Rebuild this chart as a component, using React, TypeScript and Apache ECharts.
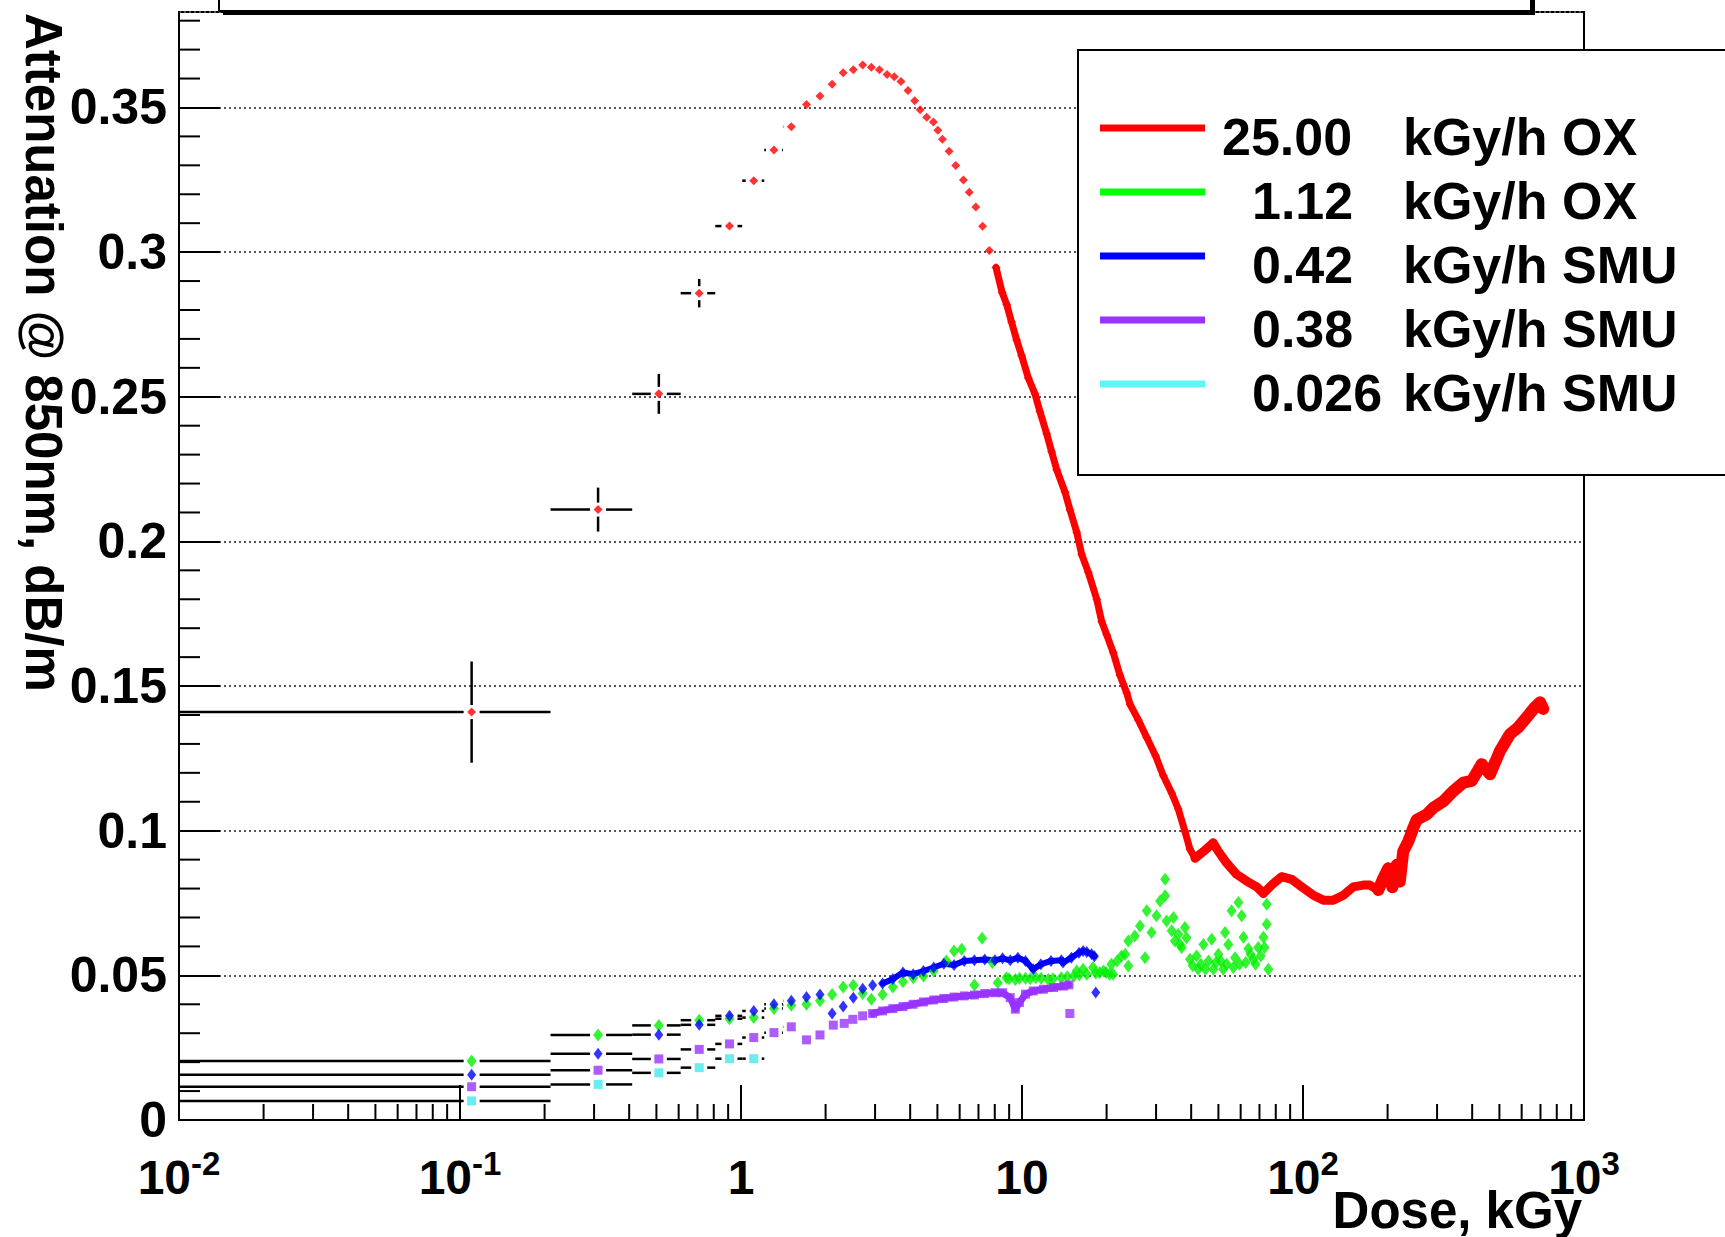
import React, { useEffect, useRef } from 'react';
import * as echarts from 'echarts';

const FONT = '"Liberation Sans", Arial, Helvetica, sans-serif';

// ---- axis labels ----
const xTickLabels = [
  { base: '10', exp: '-2' },
  { base: '10', exp: '-1' },
  { base: '1', exp: '' },
  { base: '10', exp: '' },
  { base: '10', exp: '2' },
  { base: '10', exp: '3' },
];
const yTickLabels = ['0', '0.05', '0.1', '0.15', '0.2', '0.25', '0.3', '0.35'];
const xTitle = 'Dose, kGy';
const yTitle = 'Attenuation @ 850nm, dB/m';

// ---- legend ----
const legendRates = ['25.00', '1.12', '0.42', '0.38', '0.026'];
const legendUnits = ['kGy/h OX', 'kGy/h OX', 'kGy/h SMU', 'kGy/h SMU', 'kGy/h SMU'];
const seriesNames = legendRates.map((r, i) => `${r} ${legendUnits[i]}`);
const lineColors = ['#ff0000', '#00ff00', '#0000ff', '#9933ff', '#5ff5f5'];
const markerColors = ['#ff0000', '#00f000', '#0000ff', '#9933ff', '#44e8ec'];

// half width of the first dose bins (kGy)
const X_ERR = 0.1;

// ---- data: [dose kGy, attenuation dB/m] ----
const red25 = [
  [0.11, 0.141], [0.31, 0.211], [0.51, 0.251], [0.71, 0.2858], [0.91, 0.309], [1.11, 0.3247],
  [1.31, 0.3353], [1.51, 0.3433], [1.71, 0.351], [1.91, 0.354], [2.11, 0.358], [2.31, 0.362],
  [2.51, 0.363], [2.71, 0.3647], [2.91, 0.3639], [3.11, 0.363], [3.31, 0.3614], [3.51, 0.3606],
  [3.71, 0.359], [3.93, 0.3559], [4.15, 0.3523], [4.34, 0.3492], [4.58, 0.3466], [4.84, 0.345],
  [5.02, 0.3421], [5.21, 0.339], [5.5, 0.3349], [5.81, 0.3299], [6.19, 0.3249], [6.49, 0.3207],
  [6.85, 0.3156], [7.24, 0.3089], [7.65, 0.3006], [8.08, 0.2947], [8.5, 0.286], [8.82, 0.2819],
  [9.18, 0.2758], [9.57, 0.2696], [9.97, 0.2642], [10.53, 0.2565], [11.12, 0.251], [11.58, 0.2449],
  [12.24, 0.2372], [12.75, 0.231], [13.29, 0.2248], [14.22, 0.2171], [14.82, 0.2109], [15.66, 0.2032],
  [16.31, 0.1955], [17.22, 0.1893], [18.45, 0.18], [19.21, 0.1723], [20.02, 0.1677], [21.13, 0.1615],
  [22.3, 0.1538], [23.59, 0.1476], [24.24, 0.1437], [25.94, 0.1383], [27.79, 0.1322], [29.9, 0.1258],
  [31.83, 0.119], [34.1, 0.113], [35.98, 0.1075], [38.0, 0.0998], [39.6, 0.0936], [41.28, 0.0905],
  [44.2, 0.0928], [47.9, 0.0958], [49.95, 0.0929], [53.5, 0.0888], [58.1, 0.0849], [63.0, 0.0826],
  [68.4, 0.0806], [72.3, 0.0783], [77.3, 0.0812], [83.9, 0.0841], [91.2, 0.0832], [98.96, 0.0806],
  [108.8, 0.0777], [118.1, 0.076], [128.2, 0.076], [139.2, 0.0777], [151, 0.0806], [163.9, 0.0812],
  [173, 0.0812], [185.3, 0.0795], [193, 0.0835], [201.2, 0.087], [208, 0.0805], [215.4, 0.0882],
  [221, 0.0824], [227.3, 0.0928], [237, 0.0963], [247, 0.101], [253.9, 0.1038], [275.5, 0.1056],
  [291, 0.1079], [315.9, 0.1102], [342.8, 0.1137], [372, 0.1166], [398.4, 0.1172], [432.4, 0.123],
  [463, 0.1195], [502.4, 0.1276], [545.3, 0.1334], [583.5, 0.1357], [625, 0.1392], [669.2, 0.1427],
  [697.3, 0.1444], [716.2, 0.1421],
];
const red25YErr = [0.0175, 0.0076, 0.0069, 0.0049, 0.002, 0.001];

const green112 = [
  [0.11, 0.0204], [0.31, 0.0294], [0.51, 0.0327], [0.71, 0.0345], [0.91, 0.035], [1.11, 0.0354],
  [1.31, 0.0385], [1.51, 0.0397], [1.71, 0.04], [1.91, 0.0412], [2.11, 0.0434], [2.31, 0.046],
  [2.51, 0.0466], [2.71, 0.0437], [2.91, 0.0417], [3.19, 0.0434], [3.47, 0.046], [3.77, 0.0478],
  [4.1, 0.0492], [4.46, 0.0498], [4.85, 0.0515], [5.38, 0.055], [5.73, 0.0584], [6.1, 0.059],
  [6.77, 0.0467], [7.21, 0.0628], [7.84, 0.0544], [8.2, 0.0474], [8.8, 0.0492], [9.0, 0.0488],
  [9.47, 0.0486], [9.8, 0.049], [10.29, 0.049], [10.7, 0.0488], [11.2, 0.0492], [11.7, 0.049],
  [12.4, 0.0486], [12.9, 0.0488], [13.8, 0.0492], [14.5, 0.0495], [15.3, 0.0498], [15.65, 0.0515],
  [16.0, 0.0502], [16.5, 0.0521], [17.0, 0.0504], [17.9, 0.0527], [18.3, 0.0508], [18.9, 0.051],
  [19.5, 0.0515], [19.9, 0.051], [20.5, 0.0504], [20.8, 0.0538], [21.1, 0.0504], [21.8, 0.055],
  [22.6, 0.0567], [23.3, 0.0573], [23.9, 0.0532], [23.9, 0.0619], [25.2, 0.0636], [26.3, 0.0671],
  [27.4, 0.0561], [27.8, 0.0723], [28.9, 0.0648], [30.1, 0.0706], [31.0, 0.0757], [32.3, 0.0832],
  [32.3, 0.0775], [32.7, 0.0688], [34.1, 0.0654], [34.6, 0.07], [35.0, 0.0619], [36.0, 0.0642],
  [36.5, 0.0607], [37.0, 0.0596], [38.0, 0.0665], [38.5, 0.063], [39.6, 0.0556], [40.5, 0.0533],
  [41.8, 0.0567], [42.4, 0.0521], [43.3, 0.0538], [44.2, 0.0607], [45.0, 0.0521], [46.1, 0.055],
  [47.3, 0.0625], [48.0, 0.0521], [49.0, 0.0544], [50.0, 0.0573], [51.0, 0.055], [52.0, 0.0521],
  [52.8, 0.0648], [53.5, 0.0538], [54.2, 0.0607], [55.7, 0.0723], [56.5, 0.0527], [57.3, 0.0561],
  [58.9, 0.0752], [59.5, 0.0538], [60.5, 0.0706], [61.4, 0.0632], [62.5, 0.0544], [63.9, 0.0592],
  [65.0, 0.0573], [66.6, 0.0556], [67.8, 0.0538], [69.3, 0.0596], [70.7, 0.0567], [72.3, 0.0632],
  [73.0, 0.0596], [74.3, 0.0677], [74.3, 0.0746], [75.3, 0.0521],
];

const blue042 = [
  [0.11, 0.0156], [0.31, 0.0229], [0.51, 0.0295], [0.71, 0.0329], [0.91, 0.036], [1.11, 0.0377],
  [1.31, 0.04], [1.51, 0.0412], [1.71, 0.0425], [1.91, 0.0434], [2.31, 0.0392], [2.51, 0.0423],
  [2.71, 0.0454], [2.94, 0.0466], [3.19, 0.0472], [3.47, 0.0487], [3.77, 0.051], [4.1, 0.0504],
  [4.46, 0.0515], [4.85, 0.0527], [5.27, 0.054], [5.73, 0.0536], [6.23, 0.055], [6.77, 0.0552],
  [7.37, 0.0555], [8.01, 0.0552], [8.53, 0.0559], [9.08, 0.0552], [9.67, 0.0561], [10.29, 0.055],
  [10.96, 0.0521], [11.67, 0.0538], [12.68, 0.055], [13.8, 0.0552], [14.0, 0.0544], [14.99, 0.0561],
  [15.96, 0.0578], [16.5, 0.0584], [17.0, 0.0581], [17.7, 0.0573], [18.1, 0.0566],
];
const blue042Stray = [[2.11, 0.0368], [18.3, 0.0441]];

const purple038 = [
  [0.11, 0.0115], [0.31, 0.0172], [0.51, 0.0211], [0.71, 0.0244], [0.91, 0.0263], [1.11, 0.0285],
  [1.31, 0.0302], [1.51, 0.0322], [1.71, 0.0277], [1.91, 0.0294], [2.13, 0.0328], [2.33, 0.0334],
  [2.5, 0.0348], [2.71, 0.036], [2.94, 0.0368], [3.19, 0.0377], [3.47, 0.0385], [3.77, 0.0392],
  [4.1, 0.04], [4.46, 0.0408], [4.85, 0.0415], [5.27, 0.042], [5.73, 0.0425], [6.23, 0.0429],
  [6.77, 0.0432], [7.37, 0.0437], [8.01, 0.044], [8.53, 0.044], [9.08, 0.0423], [9.47, 0.0383],
  [9.79, 0.0406], [10.29, 0.0435], [10.96, 0.0446], [11.92, 0.0452], [12.95, 0.0458], [14.08, 0.0463],
  [14.69, 0.0467],
];
const purple038Stray = [[14.8, 0.0368]];

const cyan0026 = [
  [0.11, 0.0066], [0.31, 0.0123], [0.51, 0.0163], [0.71, 0.0181], [0.91, 0.0212], [1.11, 0.0212],
];

// ---- helpers ----
function errorItems(points: number[][], yErr: number[]) {
  const out: number[][] = [];
  points.forEach((p, i) => {
    if (p[0] < 2) out.push([p[0], p[1], X_ERR, i < yErr.length ? yErr[i] : 0]);
  });
  return out;
}

function minorTickItems() {
  const items: number[][] = [];
  for (let k = -2; k <= 2; k++) {
    for (let m = 2; m <= 9; m++) items.push([m * Math.pow(10, k), 0, 0]);
  }
  for (let j = 1; j <= 38; j++) {
    if (j % 5 !== 0) items.push([0.01, j / 100, 1]);
  }
  return items;
}

export default function App() {
  const ref = useRef<HTMLDivElement>(null);

  useEffect(() => {
    if (!ref.current) return;
    const chart = echarts.init(ref.current, undefined, { renderer: 'svg' });

    const errData = [
      ...errorItems(red25, red25YErr),
      ...errorItems(green112, []),
      ...errorItems(blue042, []),
      ...errorItems(purple038, []),
      ...errorItems(cyan0026, []),
    ];

    const GAPX = 8;
    const GAPY = 7;

    const denseLine = (name: string, data: number[][], color: string, width: number) => ({
      type: 'line', name, silent: true, z: 4, showSymbol: false, data,
      lineStyle: { color, width, join: 'round', cap: 'round' },
    });

    const option: any = {
      animation: false,
      backgroundColor: '#ffffff',
      grid: {
        left: 179, right: 141, top: 12, bottom: 117,
        show: true, borderColor: '#000', borderWidth: 2, backgroundColor: 'transparent',
      },
      xAxis: {
        type: 'log', logBase: 10, min: 0.01, max: 1000, splitNumber: 5,
        axisLine: { show: true, lineStyle: { color: '#000', width: 2 } },
        axisTick: { show: true, inside: true, length: 35, lineStyle: { color: '#000', width: 2 } },
        splitLine: { show: false },
        axisLabel: {
          margin: 27,
          formatter: (v: number) => {
            const e = Math.round(Math.log10(v));
            const lab = xTickLabels[e + 2];
            if (!lab) return '';
            return lab.exp ? `{b|${lab.base}}{s|${lab.exp}}` : `{b|${lab.base}}`;
          },
          rich: {
            b: { fontSize: 48, fontWeight: 'bold', fontFamily: FONT, color: '#000', lineHeight: 60 },
            s: { fontSize: 33, fontWeight: 'bold', fontFamily: FONT, color: '#000', lineHeight: 40, verticalAlign: 'top' },
          },
        },
      },
      yAxis: {
        type: 'value', min: 0, max: 0.383, interval: 0.05,
        axisLine: { show: true, lineStyle: { color: '#000', width: 2 } },
        axisTick: { show: true, inside: true, length: 41, lineStyle: { color: '#000', width: 2 } },
        splitLine: { show: true, lineStyle: { color: '#555', type: [2, 3], width: 2 } },
        axisLabel: {
          margin: 12, showMaxLabel: false, fontSize: 50, lineHeight: 40, fontWeight: 'bold', fontFamily: FONT, color: '#000',
          formatter: (v: number) => {
            const idx = Math.round(v / 0.05);
            return Math.abs(v - idx * 0.05) < 1e-6 && yTickLabels[idx] !== undefined ? yTickLabels[idx] : '';
          },
        },
      },
      series: [
        {
          type: 'custom', name: 'minor ticks', silent: true, z: 3, clip: false,
          data: minorTickItems(),
          renderItem: (_p: any, api: any) => {
            const c = api.coord([api.value(0), api.value(1)]);
            const kind = api.value(2);
            const shape = kind === 0
              ? { x1: c[0], y1: c[1], x2: c[0], y2: c[1] - 16 }
              : { x1: c[0], y1: c[1], x2: c[0] + 21, y2: c[1] };
            return { type: 'line', shape, style: { stroke: '#000', lineWidth: 2 } };
          },
        },
        {
          type: 'custom', name: 'error bars', silent: true, z: 2,
          data: errData,
          renderItem: (_p: any, api: any) => {
            const x = api.value(0), y = api.value(1), ex = api.value(2), ey = api.value(3);
            const c = api.coord([x, y]);
            const l = api.coord([x - ex, y]);
            const r = api.coord([x + ex, y]);
            const children: any[] = [];
            const st = { stroke: '#000', lineWidth: 2.5 };
            if (c[0] - GAPX > l[0]) children.push({ type: 'line', shape: { x1: l[0], y1: c[1], x2: c[0] - GAPX, y2: c[1] }, style: st });
            if (r[0] > c[0] + GAPX) children.push({ type: 'line', shape: { x1: c[0] + GAPX, y1: c[1], x2: r[0], y2: c[1] }, style: st });
            if (ey > 0) {
              const t = api.coord([x, y + ey]);
              const b = api.coord([x, y - ey]);
              if (c[1] - GAPY > t[1]) children.push({ type: 'line', shape: { x1: c[0], y1: t[1], x2: c[0], y2: c[1] - GAPY }, style: st });
              if (b[1] > c[1] + GAPY) children.push({ type: 'line', shape: { x1: c[0], y1: c[1] + GAPY, x2: c[0], y2: b[1] }, style: st });
            }
            return { type: 'group', children };
          },
        },
        // dense parts of the curves (overlapping markers in the original)
        denseLine(seriesNames[0] + ' dense a', red25.filter((p) => p[0] >= 8 && p[0] <= 45), markerColors[0], 7),
        denseLine(seriesNames[0] + ' dense b', red25.filter((p) => p[0] >= 41 && p[0] <= 190), markerColors[0], 9),
        denseLine(seriesNames[0] + ' dense c', red25.filter((p) => p[0] >= 185), markerColors[0], 12),
        denseLine(seriesNames[2] + ' dense', blue042.filter((p) => p[0] >= 3), markerColors[2], 6),
        denseLine(seriesNames[3] + ' dense', purple038.filter((p) => p[0] >= 2.9), markerColors[3], 7),
        {
          type: 'scatter', name: seriesNames[0], z: 5, symbol: 'diamond', symbolSize: 9,
          itemStyle: { color: markerColors[0] }, data: red25,
        },
        {
          type: 'scatter', name: seriesNames[1], z: 5, symbol: 'diamond', symbolSize: [10, 13],
          itemStyle: { color: markerColors[1] }, data: green112,
        },
        {
          type: 'scatter', name: seriesNames[2], z: 5, symbol: 'diamond', symbolSize: [9, 12],
          itemStyle: { color: markerColors[2] }, data: [...blue042, ...blue042Stray],
        },
        {
          type: 'scatter', name: seriesNames[3], z: 5, symbol: 'rect', symbolSize: [9, 9],
          itemStyle: { color: markerColors[3] }, data: [...purple038, ...purple038Stray],
        },
        {
          type: 'scatter', name: seriesNames[4], z: 5, symbol: 'rect', symbolSize: [9, 9],
          itemStyle: { color: markerColors[4] }, data: cyan0026,
        },
      ],
      graphic: [
        // title box (cut off at top)
        { type: 'rect', z: 100, shape: { x: 223, y: -20, width: 1312, height: 35 }, style: { fill: '#000' } },
        { type: 'rect', z: 101, shape: { x: 219, y: -20, width: 1312, height: 31 }, style: { fill: '#fff', stroke: '#000', lineWidth: 2 } },
        // axis titles
        {
          type: 'text', z: 100, x: 43, y: 13, rotation: -Math.PI / 2,
          style: {
            text: yTitle, fill: '#000', fontSize: 51, fontWeight: 'bold', fontFamily: FONT,
            align: 'left', verticalAlign: 'middle',
          },
        },
        {
          type: 'text', z: 100, x: 1582, y: 1210,
          style: {
            text: xTitle, fill: '#000', fontSize: 51, lineHeight: 36, fontWeight: 'bold', fontFamily: FONT,
            align: 'right', verticalAlign: 'middle',
          },
        },
        // legend
        { type: 'rect', z: 100, shape: { x: 1078, y: 50, width: 700, height: 425 }, style: { fill: '#fff', stroke: '#000', lineWidth: 2 } },
        ...legendRates.flatMap((rate, i) => {
          const ly = 128 + i * 64;
          const ty = 137 + i * 64;
          return [
            { type: 'line', z: 101, shape: { x1: 1100, y1: ly, x2: 1205, y2: ly }, style: { stroke: lineColors[i], lineWidth: 7 } },
            {
              type: 'text', z: 101, x: i === 0 ? 1222 : 1252, y: ty,
              style: { text: rate, fill: '#000', fontSize: 52, fontWeight: 'bold', fontFamily: FONT, align: 'left', verticalAlign: 'middle' },
            },
            {
              type: 'text', z: 101, x: 1403, y: ty,
              style: { text: legendUnits[i], fill: '#000', fontSize: 52, fontWeight: 'bold', fontFamily: FONT, align: 'left', verticalAlign: 'middle' },
            },
          ];
        }),
      ],
    };

    chart.setOption(option);
    return () => chart.dispose();
  }, []);

  return (
    <div
      ref={ref}
      style={{ position: 'fixed', left: 0, top: 0, width: 1725, height: 1237, background: '#fff' }}
    />
  );
}
